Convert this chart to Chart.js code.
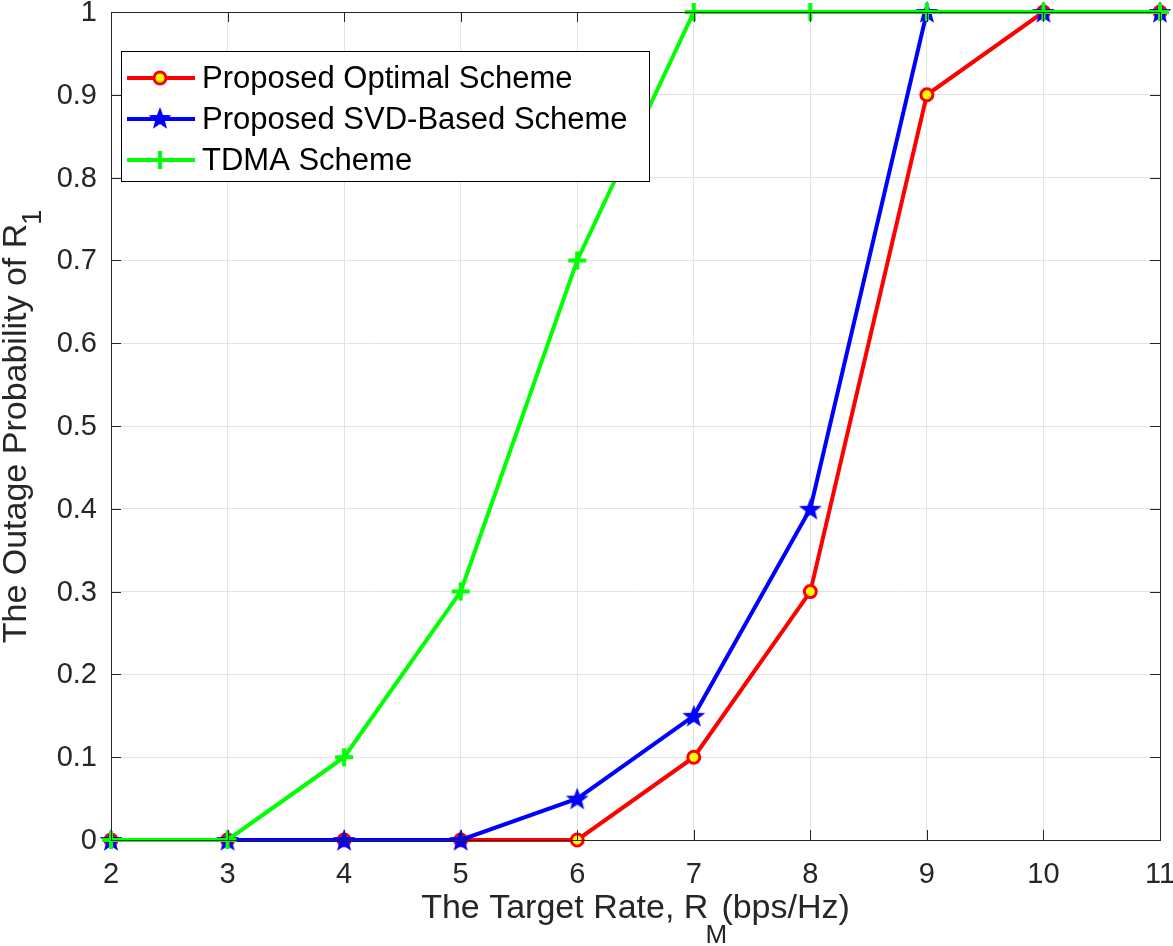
<!DOCTYPE html>
<html>
<head>
<meta charset="utf-8">
<script src="https://cdn.jsdelivr.net/npm/chart.js@4.4.1/dist/chart.umd.min.js"></script>
<style>
  html, body { margin: 0; padding: 0; background: #fff; }
  #wrap { width: 1173px; height: 946px; }
</style>
</head>
<body>
<div id="wrap"><canvas id="outageChart"></canvas></div>
<script>
const rates = [2, 3, 4, 5, 6, 7, 8, 9, 10, 11];
const optimalOutage = [0, 0, 0, 0, 0, 0.1, 0.3, 0.9, 1, 1];
const svdOutage = [0, 0, 0, 0, 0.05, 0.15, 0.4, 1, 1, 1];
const tdmaOutage = [0, 0, 0.1, 0.3, 0.7, 1, 1, 1, 1, 1];
const yTicks = [0, 0.1, 0.2, 0.3, 0.4, 0.5, 0.6, 0.7, 0.8, 0.9, 1];
const seriesNames = ['Proposed Optimal Scheme', 'Proposed SVD-Based Scheme', 'TDMA Scheme'];

const FONT = 'Liberation Sans, Arial, sans-serif';
const TXT = '#262626';

function makeStar(size, color) {
    const c = document.createElement('canvas');
    c.width = size; c.height = size;
    const g = c.getContext('2d');
    const cx = size / 2, cy = size / 2 + 1, R = size / 2 - 1, r = R * 0.42;
    g.beginPath();
    for (let i = 0; i < 10; i++) {
        const rad = i % 2 === 0 ? R : r;
        const a = -Math.PI / 2 + i * Math.PI / 5;
        g.lineTo(cx + rad * Math.cos(a), cy + rad * Math.sin(a));
    }
    g.closePath();
    g.fillStyle = color;
    g.fill();
    return c;
}
const starImg = makeStar(26, '#0000ff');

function toPoints(vals) {
    return rates.map((x, i) => ({ x: x, y: vals[i] }));
}

// MATLAB look: inward ticks, box, tick labels, legend with markers, titles with subscripts
const matlabFrame = {
    id: 'matlabFrame',
    afterDraw(chart) {
        const ctx = chart.ctx;
        const a = chart.chartArea;
        const xs = chart.scales.x, ys = chart.scales.y;
        ctx.save();
        ctx.strokeStyle = TXT;
        ctx.lineWidth = 1;
        ctx.beginPath();
        rates.forEach(v => {
            const px = Math.round(xs.getPixelForValue(v)) + 0.5;
            ctx.moveTo(px, a.bottom); ctx.lineTo(px, a.bottom - 10);
            ctx.moveTo(px, a.top); ctx.lineTo(px, a.top + 10);
        });
        yTicks.forEach(v => {
            const py = Math.round(ys.getPixelForValue(v)) + 0.5;
            ctx.moveTo(a.left, py); ctx.lineTo(a.left + 10, py);
            ctx.moveTo(a.right, py); ctx.lineTo(a.right - 10, py);
        });
        ctx.stroke();
        ctx.strokeRect(Math.round(a.left) + 0.5, Math.round(a.top) + 0.5,
            Math.round(a.right - a.left), Math.round(a.bottom - a.top));

        // tick labels
        ctx.fillStyle = TXT;
        ctx.font = '29px ' + FONT;
        ctx.textBaseline = 'middle';
        ctx.textAlign = 'center';
        rates.forEach(v => ctx.fillText(String(v), xs.getPixelForValue(v), a.bottom + 35));
        ctx.textAlign = 'right';
        yTicks.forEach(v => ctx.fillText(String(v), a.left - 14, ys.getPixelForValue(v) + 1));

        // x title
        ctx.textBaseline = 'alphabetic';
        ctx.textAlign = 'left';
        const main = 'The Target Rate, R';
        const sub = 'M';
        const tail = '(bps/Hz)';
        ctx.font = '34px ' + FONT;
        const w1 = ctx.measureText(main).width;
        const w3 = ctx.measureText(tail).width;
        ctx.font = '26px ' + FONT;
        const w2 = ctx.measureText(sub).width;
        const x0 = (a.left + a.right) / 2 - (w1 + w2 * 0.6 + w3) / 2;
        const by = 918;
        ctx.font = '34px ' + FONT;
        ctx.fillText(main, x0, by);
        ctx.font = '26px ' + FONT;
        ctx.fillText(sub, x0 + w1 - 3, by + 25);
        ctx.font = '34px ' + FONT;
        ctx.fillText(tail, x0 + w1 + w2 * 0.6, by);

        // y title
        ctx.save();
        ctx.translate(26, (a.top + a.bottom) / 2);
        ctx.rotate(-Math.PI / 2);
        const ymain = 'The Outage Probability of R';
        ctx.font = '34px ' + FONT;
        const yw1 = ctx.measureText(ymain).width;
        ctx.font = '27px ' + FONT;
        const yw2 = ctx.measureText('1').width;
        const y0 = -(yw1 + yw2) / 2;
        ctx.font = '34px ' + FONT;
        ctx.fillText(ymain, y0, 0);
        ctx.font = '27px ' + FONT;
        ctx.fillText('1', y0 + yw1 - 1, 15);
        ctx.restore();

        // legend
        const lx = 121, ly = 51, lw = 528, lh = 130;
        ctx.fillStyle = '#fff';
        ctx.fillRect(lx, ly, lw, lh);
        ctx.strokeStyle = '#000';
        ctx.lineWidth = 1;
        ctx.strokeRect(lx + 0.5, ly + 0.5, lw, lh);
        const rows = [78, 119, 160];
        ctx.font = '31px ' + FONT;
        ctx.textBaseline = 'middle';
        rows.forEach((ry, i) => {
            const col = ['#ff0000', '#0000ff', '#00ff00'][i];
            ctx.strokeStyle = col;
            ctx.lineWidth = 4;
            ctx.beginPath();
            ctx.moveTo(127, ry); ctx.lineTo(195, ry);
            ctx.stroke();
            const mx = 160;
            if (i === 0) {
                ctx.beginPath();
                ctx.arc(mx, ry, 6, 0, Math.PI * 2);
                ctx.fillStyle = '#ffff00';
                ctx.fill();
                ctx.lineWidth = 3;
                ctx.strokeStyle = '#ff0000';
                ctx.stroke();
            } else if (i === 1) {
                ctx.drawImage(starImg, mx - 13, ry - 14);
            } else {
                ctx.lineWidth = 4;
                ctx.beginPath();
                ctx.moveTo(mx, ry - 9); ctx.lineTo(mx, ry + 9);
                ctx.stroke();
            }
            ctx.fillStyle = '#000';
            ctx.fillText(seriesNames[i], 202, ry + 1);
        });
        ctx.restore();
    }
};

new Chart(document.getElementById('outageChart'), {
    type: 'line',
    data: {
        datasets: [
            {
                label: seriesNames[0],
                data: toPoints(optimalOutage),
                borderColor: '#ff0000',
                backgroundColor: '#ffff00',
                borderWidth: 4,
                pointStyle: 'circle',
                pointRadius: 6,
                pointBorderWidth: 3,
                pointBorderColor: '#ff0000',
                pointBackgroundColor: '#ffff00',
                order: 2
            },
            {
                label: seriesNames[1],
                data: toPoints(svdOutage),
                borderColor: '#0000ff',
                backgroundColor: '#0000ff',
                borderWidth: 4,
                pointStyle: starImg,
                pointRadius: 13,
                order: 1
            },
            {
                label: seriesNames[2],
                data: toPoints(tdmaOutage),
                borderColor: '#00ff00',
                backgroundColor: '#00ff00',
                borderWidth: 4,
                pointStyle: 'cross',
                pointRadius: 9,
                pointBorderWidth: 4,
                pointBorderColor: '#00ff00',
                order: 0
            }
        ]
    },
    options: {
        responsive: true,
        maintainAspectRatio: false,
        animation: false,
        clip: false,
        layout: { autoPadding: false, padding: { left: 0, right: 13, top: 12, bottom: 0 } },
        plugins: {
            legend: { display: false },
            tooltip: { enabled: false }
        },
        elements: { line: { tension: 0 } },
        scales: {
            x: {
                type: 'linear',
                min: 2,
                max: 11,
                afterBuildTicks: s => { s.ticks = rates.map(v => ({ value: v })); },
                afterFit: s => { s.height = 106; },
                grid: { color: '#e3e3e3', lineWidth: 1, drawTicks: false },
                border: { display: false },
                ticks: { display: false }
            },
            y: {
                type: 'linear',
                min: 0,
                max: 1,
                afterBuildTicks: s => { s.ticks = yTicks.map(v => ({ value: v })); },
                afterFit: s => { s.width = 111; },
                grid: { color: '#e3e3e3', lineWidth: 1, drawTicks: false },
                border: { display: false },
                ticks: { display: false }
            }
        }
    },
    plugins: [matlabFrame]
});
</script>
</body>
</html>
